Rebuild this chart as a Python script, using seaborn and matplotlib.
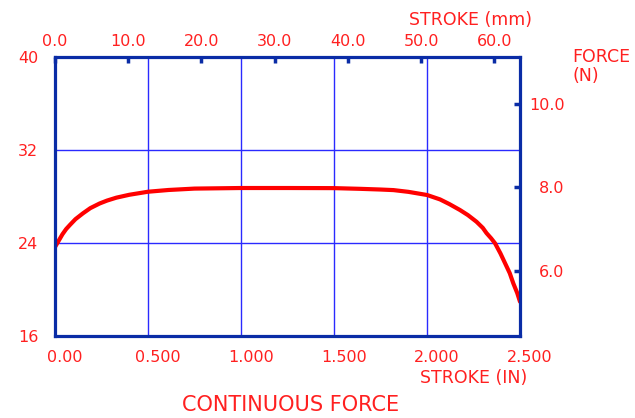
import matplotlib
matplotlib.use("Agg")
import matplotlib.pyplot as plt
import matplotlib.transforms as mtransforms
import pandas as pd
import seaborn as sns

# stroke (inches) vs force (oz)
stroke_in = [0.00, 0.02, 0.04, 0.06, 0.08, 0.11, 0.15, 0.19, 0.24, 0.28, 0.33, 0.40,
             0.50, 0.61, 0.75, 1.00, 1.25, 1.50, 1.64, 1.75, 1.82, 1.90, 2.00, 2.07,
             2.12, 2.177, 2.22, 2.266, 2.30, 2.32, 2.345, 2.366, 2.395, 2.42, 2.445,
             2.464, 2.485, 2.50]
force_oz = [23.65, 24.2, 24.75, 25.2, 25.55, 26.05, 26.55, 27.0, 27.4, 27.65, 27.9, 28.15,
            28.41, 28.56, 28.68, 28.73, 28.73, 28.72, 28.66, 28.6, 28.55, 28.4, 28.13, 27.75,
            27.35, 26.84, 26.4, 25.83, 25.3, 24.85, 24.4, 23.97, 23.1, 22.25, 21.4,
            20.53, 19.7, 18.95]

x_ticks = [0.0, 0.5, 1.0, 1.5, 2.0, 2.5]
x_labels = ["0.00", "0.500", "1.000", "1.500", "2.000", "2.500"]
y_ticks = [16, 24, 32, 40]
y_labels = ["16", "24", "32", "40"]
mm_ticks = [0, 10, 20, 30, 40, 50, 60]
mm_labels = ["0.0", "10.0", "20.0", "30.0", "40.0", "50.0", "60.0"]
n_ticks = [6, 8, 10]
n_labels = ["6.0", "8.0", "10.0"]

IN_TO_MM = 25.4
OZ_TO_N = 0.2780139

red = "#ff2020"
frame = "#0a2ca6"
grid = "#2a2aff"

sns.set_style("white")
plt.rcParams["font.family"] = ["DejaVu Sans"]

df = pd.DataFrame({"stroke": stroke_in, "force": force_oz})

fig = plt.figure(figsize=(6.35, 4.18), dpi=100)
ax = fig.add_axes([55 / 635, 1 - 336 / 418, 465 / 635, 279 / 418])
ax.grid(True, color=grid, lw=1.0)
ax.set_axisbelow(True)
sns.lineplot(data=df, x="stroke", y="force", color="#ff0000", lw=3.0, ax=ax, zorder=3)
ax.set_xlim(0, 2.5)
ax.set_ylim(16, 40)
ax.set_xticks(x_ticks, x_labels)
ax.set_yticks(y_ticks, y_labels)
ax.set_xlabel("")
ax.set_ylabel("")
ax.tick_params(axis="both", length=0, labelcolor=red, labelsize=11.5)
ax.tick_params(axis="x", pad=10)
ax.tick_params(axis="y", pad=12)
for sp in ax.spines.values():
    sp.set_visible(True)
    sp.set_color(frame)
    sp.set_linewidth(2.3)
    sp.set_zorder(4)

# shift bottom labels a little right, like the original
off = mtransforms.ScaledTranslation(10 / 100, 0, fig.dpi_scale_trans)
for lab in ax.get_xticklabels():
    lab.set_transform(lab.get_transform() + off)

# mm on top
secx = ax.secondary_xaxis("top", functions=(lambda v: v * IN_TO_MM, lambda v: v / IN_TO_MM))
secx.set_xticks(mm_ticks, mm_labels)
secx.tick_params(direction="in", length=4, width=2.5, color=frame,
                 labelcolor=red, labelsize=11.5, pad=6)
secx.spines["top"].set_visible(False)

# Newtons on the right
secy = ax.secondary_yaxis("right", functions=(lambda v: v * OZ_TO_N, lambda v: v / OZ_TO_N))
secy.set_yticks(n_ticks, n_labels)
secy.tick_params(direction="in", length=4, width=2.5, color=frame,
                 labelcolor=red, labelsize=11.5, pad=32)
secy.spines["right"].set_visible(False)
for lab in secy.get_yticklabels():
    lab.set_horizontalalignment("right")

fig.text(471 / 635, 1 - 20 / 418, "STROKE (mm)", ha="center", va="center", color=red, fontsize=12.5)
fig.text(474 / 635, 1 - 378 / 418, "STROKE (IN)", ha="center", va="center", color=red, fontsize=12.5)
fig.text(572 / 635, 1 - 48 / 418, "FORCE\n(N)", ha="left", va="top", color=red,
         fontsize=12.5, linespacing=1.05)
fig.text(291 / 635, 1 - 405 / 418, "CONTINUOUS FORCE", ha="center", va="center", color=red, fontsize=15)

fig.savefig("out.png", dpi=100)
